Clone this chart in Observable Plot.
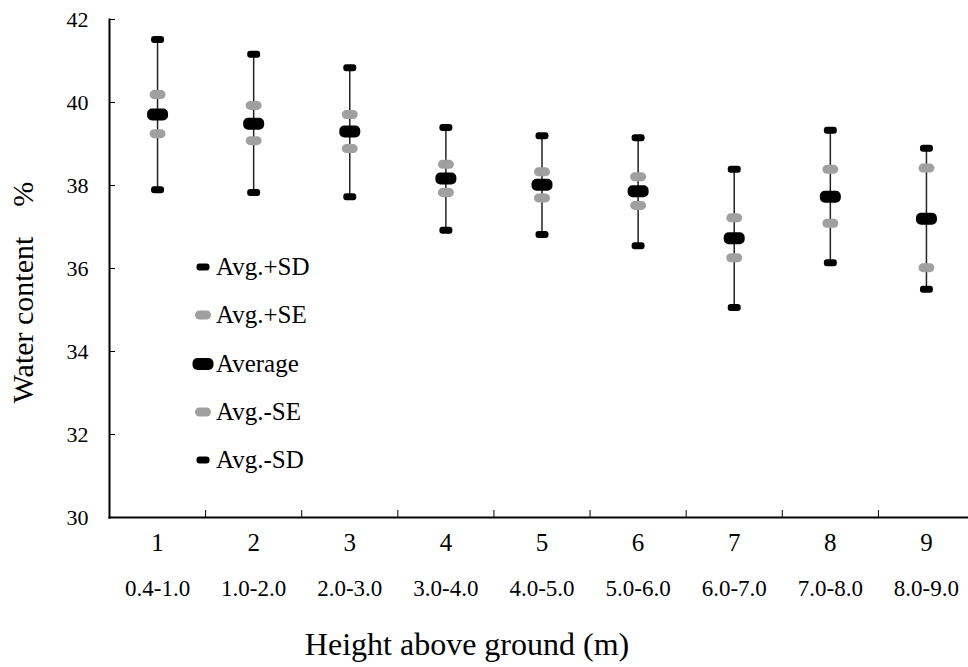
<!DOCTYPE html>
<html>
<head>
<meta charset="utf-8">
<script src="https://cdn.jsdelivr.net/npm/d3@7"></script>
<script src="https://cdn.jsdelivr.net/npm/@observablehq/plot@0.6"></script>
<style>
  body { margin: 0; background: #fff; }
  #chart { position: relative; width: 968px; height: 667px; font-family: "Liberation Serif", "Times New Roman", serif; }
  #chart svg { display: block; }
  #legend { position: absolute; left: 190px; top: 243px; }
  #legend .item { display: flex; align-items: center; height: 48.3px; font-size: 25px; color: #000; }
  #legend .item span { font-family: "Liberation Serif", "Times New Roman", serif; }
  #legend .item svg { width: 26px; height: 14px; }
</style>
</head>
<body>
<div id="chart"></div>
<script>
// Height classes (1–9) and the height range each one covers
const groups = [1, 2, 3, 4, 5, 6, 7, 8, 9];
const ranges = ["0.4-1.0", "1.0-2.0", "2.0-3.0", "3.0-4.0", "4.0-5.0", "5.0-6.0", "6.0-7.0", "7.0-8.0", "8.0-9.0"];

// Water content (%) per height class
const average = [39.71, 39.49, 39.30, 38.17, 38.02, 37.86, 36.73, 37.73, 37.20];
const avgPlusSE = [40.19, 39.93, 39.71, 38.51, 38.33, 38.21, 37.22, 38.39, 38.42];
const avgMinusSE = [39.25, 39.08, 38.89, 37.83, 37.70, 37.52, 36.26, 37.09, 36.02];
const avgPlusSD = [41.52, 41.16, 40.84, 39.40, 39.20, 39.15, 38.39, 39.33, 38.90];
const avgMinusSD = [37.90, 37.83, 37.73, 36.92, 36.82, 36.55, 35.06, 36.14, 35.50];

const yTicks = [30, 32, 34, 36, 38, 40, 42];
// category separators sit halfway between neighbouring classes
const separators = groups.slice(0, -1).map((g) => g + 0.5);

const rows = groups.map((g, i) => ({
  g,
  avg: average[i],
  sePlus: avgPlusSE[i],
  seMinus: avgMinusSE[i],
  sdPlus: avgPlusSD[i],
  sdMinus: avgMinusSD[i]
}));

// rounded-rectangle marker symbol of fixed pixel size
function pill(w, h, r) {
  return {
    draw(ctx) {
      const x0 = -w / 2, x1 = w / 2, y0 = -h / 2, y1 = h / 2;
      ctx.moveTo(x0 + r, y0);
      ctx.lineTo(x1 - r, y0);
      ctx.arcTo(x1, y0, x1, y0 + r, r);
      ctx.lineTo(x1, y1 - r);
      ctx.arcTo(x1, y1, x1 - r, y1, r);
      ctx.lineTo(x0 + r, y1);
      ctx.arcTo(x0, y1, x0, y1 - r, r);
      ctx.lineTo(x0, y0 + r);
      ctx.arcTo(x0, y0, x0 + r, y0, r);
      ctx.closePath();
    }
  };
}

const sdSymbol = pill(13, 7, 3);
const seSymbol = pill(16, 9, 4.5);
const avgSymbol = pill(21, 12, 5);
const gray = "#a0a0a0";
const serif = "'Liberation Serif', 'Times New Roman', serif";

const chart = Plot.plot({
  width: 968,
  height: 667,
  marginLeft: 109,
  marginRight: -6,
  marginTop: 19,
  marginBottom: 150,
  style: { fontFamily: serif, color: "#000", background: "#fff", overflow: "visible" },
  x: { domain: [0.5, 9.5] },
  y: { domain: [30, 42] },
  marks: [
    Plot.frame({ anchor: "left", strokeWidth: 2 }),
    Plot.frame({ anchor: "bottom", strokeWidth: 2 }),
    Plot.axisY({ ticks: yTicks, tickSize: -6, tickPadding: 27, fontSize: 22, fontFamily: serif, label: null }),
    Plot.axisX({ ticks: separators, tickSize: -7, tickFormat: () => "", label: null }),
    Plot.axisX({ ticks: groups, tickSize: 0, tickPadding: 16, fontSize: 25, fontFamily: serif, label: null }),
    Plot.axisX({ ticks: groups, tickSize: 0, tickPadding: 62, fontSize: 23, fontFamily: serif, tickFormat: (d) => ranges[d - 1], label: null }),
    Plot.text(["Height above ground (m)"], { frameAnchor: "bottom", textAnchor: "middle", dx: -75, dy: 115, lineAnchor: "top", fontSize: 32, fontFamily: serif }),
    Plot.text(["Water content\u2003%"], { frameAnchor: "left", textAnchor: "middle", rotate: -90, dx: -98, dy: 24, lineAnchor: "top", fontSize: 30, fontFamily: serif }),
    Plot.ruleX(rows, { x: "g", y1: "sdMinus", y2: "sdPlus", stroke: "#222", strokeWidth: 1.5 }),
    Plot.dot(rows, { x: "g", y: "sePlus", symbol: seSymbol, fill: gray, stroke: null }),
    Plot.dot(rows, { x: "g", y: "seMinus", symbol: seSymbol, fill: gray, stroke: null }),
    Plot.dot(rows, { x: "g", y: "sdPlus", symbol: sdSymbol, fill: "#000", stroke: null }),
    Plot.dot(rows, { x: "g", y: "sdMinus", symbol: sdSymbol, fill: "#000", stroke: null }),
    Plot.dot(rows, { x: "g", y: "avg", symbol: avgSymbol, fill: "#000", stroke: null })
  ]
});

const container = document.getElementById("chart");
container.appendChild(chart);

// legend inside the plotting area
const legendEntries = [
  { label: "Avg.+SD", w: 13, h: 7, r: 3, color: "#000" },
  { label: "Avg.+SE", w: 16, h: 9, r: 4.5, color: gray },
  { label: "Average", w: 21, h: 12, r: 5, color: "#000" },
  { label: "Avg.-SE", w: 16, h: 9, r: 4.5, color: gray },
  { label: "Avg.-SD", w: 13, h: 7, r: 3, color: "#000" }
];
const legend = document.createElement("div");
legend.id = "legend";
for (const e of legendEntries) {
  const item = document.createElement("div");
  item.className = "item";
  item.innerHTML =
    `<svg viewBox="-13 -7 26 14"><rect x="${-e.w / 2}" y="${-e.h / 2}" width="${e.w}" height="${e.h}" rx="${e.r}" fill="${e.color}"/></svg>` +
    `<span>${e.label}</span>`;
  legend.appendChild(item);
}
container.appendChild(legend);
</script>
</body>
</html>
